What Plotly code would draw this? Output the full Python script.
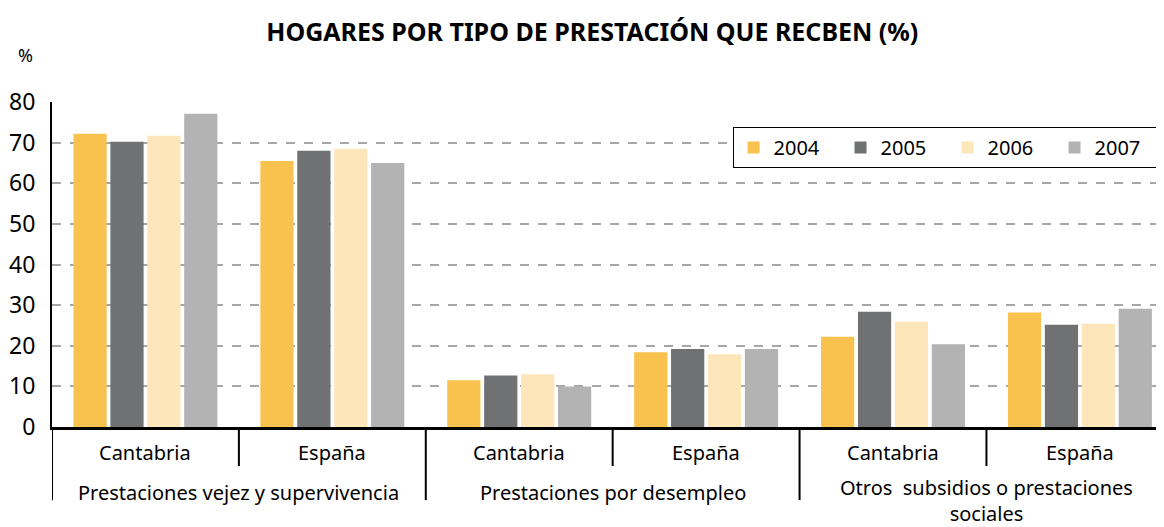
import plotly.graph_objects as go

groups = ["Prestaciones vejez y supervivencia", "Prestaciones por desempleo",
          "Otros\u00a0 subsidios o prestaciones<br>sociales"]
regions = ["Cantabria", "España", "Cantabria", "España", "Cantabria", "España"]
years = ["2004", "2005", "2006", "2007"]
v2004 = [72.2, 65.5, 11.5, 18.4, 22.2, 28.2]
v2005 = [70.2, 68.0, 12.7, 19.2, 28.4, 25.2]
v2006 = [71.7, 68.5, 13.0, 17.9, 25.9, 25.4]
v2007 = [77.1, 65.0, 10.0, 19.2, 20.4, 29.1]
colors = ["#F9C24F", "#707172", "#FCE6BA", "#B3B3B4"]

FONT = "Noto Sans"
xpos = list(range(len(regions)))
fig = go.Figure()
for name, vals, col in zip(years, [v2004, v2005, v2006, v2007], colors):
    fig.add_trace(go.Bar(x=xpos, y=vals, name=name, marker=dict(color=col, line=dict(width=0))))

shapes = []
annotations = []
for i, r in enumerate(regions):
    annotations.append(dict(x=i, y=-0.077, xref="x", yref="paper", text=r, showarrow=False,
                            font=dict(family=FONT, size=20, color="black"), yanchor="middle"))
for i in range(len(regions)):
    b = i - 0.5
    y1 = -0.12 if i % 2 == 1 else -0.225
    shapes.append(dict(type="line", xref="x", yref="paper", x0=b, x1=b, y0=0, y1=y1,
                       line=dict(color="black", width=2)))
for g, name in enumerate(groups):
    two = "<br>" in name
    annotations.append(dict(x=2 * g + 0.5, y=-0.2, xref="x", yref="paper", text=name, showarrow=False,
                            font=dict(family=FONT, size=20, color="black"),
                            yanchor="top" if two else "middle", yshift=20 if two else 0))
annotations.append(dict(x=-0.024, y=1.145, xref="paper", yref="paper", text="%", showarrow=False,
                        xanchor="center", yanchor="middle",
                        font=dict(family=FONT, size=18, color="black")))

fig.update_layout(
    width=1164, height=527,
    margin=dict(l=44, r=8, t=94, b=108, autoexpand=False),
    paper_bgcolor="white", plot_bgcolor="white",
    title=dict(text="<b>HOGARES POR TIPO DE PRESTACIÓN QUE RECBEN (%)</b>", x=0.502, xanchor="center",
               y=1 - 24 / 527, yanchor="middle", font=dict(family=FONT, size=25, color="black")),
    barmode="group", bargap=0.21, bargroupgap=0.1,
    showlegend=True,
    legend=dict(orientation="h", x=0.612, y=0.923, xanchor="left", yanchor="top",
                bordercolor="black", borderwidth=1, bgcolor="white",
                font=dict(family=FONT, size=20, color="black"),
                entrywidth=62, traceorder="normal"),
    xaxis=dict(range=[-0.5, 5.45], showticklabels=False, showgrid=False, zeroline=False,
               showline=True, linecolor="black", linewidth=3, ticks=""),
    yaxis=dict(range=[0, 80], dtick=10, showgrid=True, gridcolor="#A6A6A6", griddash="dash", gridwidth=1.5,
               zeroline=False, showline=True, linecolor="black", linewidth=2, ticks="",
               tickfont=dict(family=FONT, size=23, color="black"), ticklabelstandoff=10),
    shapes=shapes, annotations=annotations,
)
fig.write_html("out.html")
